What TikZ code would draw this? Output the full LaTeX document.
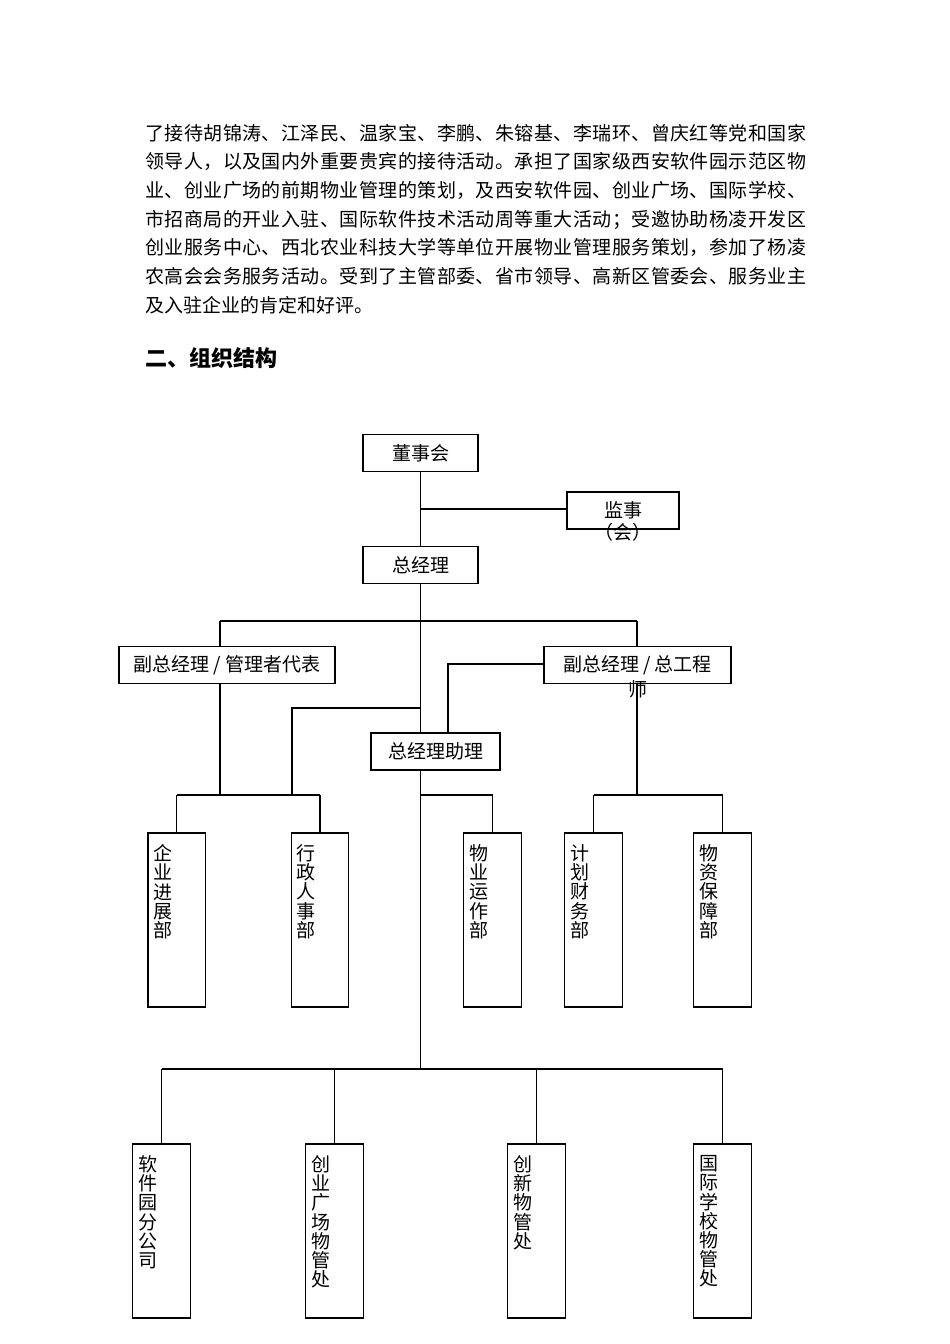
\documentclass[tikz,border=0pt]{standalone}
\usepackage{fontspec}
\newfontfamily\cjk{Noto Sans CJK SC}
\newcommand\spfirst[1]{#1\sprest}
\def\sprest#1{\ifx#1\relax\else\hfill#1\expandafter\sprest\fi}
\newcommand\jline[1]{\hbox to 661pt{\spfirst#1\relax}}
\def\stk#1{\ifx#1\relax\else\hbox{#1}\expandafter\stk\fi}
\newcommand\vtxt[1]{\vbox to 174pt{\vskip 11.5pt\hbox to 57.5pt{\hskip 5.5pt\vbox{\baselineskip=19.2pt\lineskiplimit=-1000pt\stk#1\relax}\hfil}\vfill}}
\begin{document}
\begin{tikzpicture}[x=1pt,y=-1pt,
  every node/.style={font=\cjk\fontsize{19pt}{23pt}\selectfont, inner sep=0pt},
  para/.style={anchor=base west},
  hbx/.style={draw, line width=1.3pt, minimum height=36.5pt},
  vbx/.style={draw, line width=1.3pt},
  conn/.style={line width=1.2pt}]
\useasboundingbox[fill=white] (0,0) rectangle (950,1344);

% paragraph
\node[para] (p1) at (145,140) {\jline{了接待胡锦涛、江泽民、温家宝、李鹏、朱镕基、李瑞环、曾庆红等党和国家}};
\node[para] (p2) at (145,168.7) {\jline{领导人，以及国内外重要贵宾的接待活动。承担了国家级西安软件园示范区物}};
\node[para] (p3) at (145,197.3) {\jline{业、创业广场的前期物业管理的策划，及西安软件园、创业广场、国际学校、}};
\node[para] (p4) at (145,226) {\jline{市招商局的开业入驻、国际软件技术活动周等重大活动；受邀协助杨凌开发区}};
\node[para] (p5) at (145,254.7) {\jline{创业服务中心、西北农业科技大学等单位开展物业管理服务策划，参加了杨凌}};
\node[para] (p6) at (145,283.3) {\jline{农高会会务服务活动。受到了主管部委、省市领导、高新区管委会、服务业主}};
\node[para] (p7) at (145,312) {及入驻企业的肯定和好评。};
\node[para, font=\cjk\bfseries\fontsize{22pt}{26pt}\selectfont] (h) at (145,366.5) {二、组织结构};

% boxes
\node[hbx, minimum width=115pt] (dsh) at (420.5,453) {董事会};
\node[hbx, minimum width=112pt, minimum height=37pt,
      label={[anchor=center,yshift=-3pt]south:（会）}] (js) at (623,510.5) {监事};
\node[hbx, minimum width=115pt] (zjl) at (420.5,565) {总经理};
\node[hbx, minimum width=216pt] (fz1) at (227,665) {副总经理 / 管理者代表};
\node[hbx, minimum width=187pt,
      label={[anchor=center,yshift=-5pt]south:师}] (fz2) at (637.5,665) {副总经理 / 总工程};
\node[hbx, minimum width=129pt, minimum height=37pt] (zl) at (435.5,751.5) {总经理助理};

\node[vbx] (d1) at (176.75,920) {\vtxt{企业进展部}};
\node[vbx] (d2) at (320,920) {\vtxt{行政人事部}};
\node[vbx] (d3) at (492.5,920) {\vtxt{物业运作部}};
\node[vbx] (d4) at (593.5,920) {\vtxt{计划财务部}};
\node[vbx] (d5) at (722.5,920) {\vtxt{物资保障部}};

\node[vbx] (b1) at (161.5,1231) {\vtxt{软件园分公司}};
\node[vbx] (b2) at (334.5,1231) {\vtxt{创业广场物管处}};
\node[vbx] (b3) at (536.5,1231) {\vtxt{创新物管处}};
\node[vbx] (b4) at (722.5,1231) {\vtxt{国际学校物管处}};

% junction coordinates
\coordinate (jj) at (420.5,509);
\coordinate (tl) at (220,621);
\coordinate (tr) at (637,621);
\coordinate (a1) at (420.5,708);
\coordinate (a2) at (292,708);
\coordinate (lb) at (220,795);
\coordinate (c1) at (448,664);
\coordinate (m2) at (420.5,795);
\coordinate (m3) at (420.5,1069);

% connectors
\draw[conn] (dsh.south) -- (zjl.north);
\draw[conn] (jj) -- (js.west |- jj);
\draw[conn] (zjl.south) -- (zjl.south |- zl.north);
\draw[conn] (tl) -- (tr);
\draw[conn] (tl) -- (tl |- fz1.north);
\draw[conn] (tr) -- (tr |- fz2.north);
\draw[conn] (tl |- fz1.south) -- (lb);
\draw[conn] (a1) -- (a2) -- (a2 |- lb);
\draw[conn] (d1.north |- lb) -- (d2.north |- lb);
\draw[conn] (d1.north |- lb) -- (d1.north);
\draw[conn] (d2.north |- lb) -- (d2.north);
\draw[conn] (fz2.west |- c1) -- (c1) -- (c1 |- zl.north);
\draw[conn] (m2 |- zl.south) -- (m3);
\draw[conn] (m2) -- (d3.north |- m2) -- (d3.north);
\draw[conn] (tr |- fz2.south) -- (tr |- m2);
\draw[conn] (d4.north |- m2) -- (d5.north |- m2);
\draw[conn] (d4.north |- m2) -- (d4.north);
\draw[conn] (d5.north |- m2) -- (d5.north);
\draw[conn] (b1.north |- m3) -- (b4.north |- m3);
\draw[conn] (b1.north |- m3) -- (b1.north);
\draw[conn] (b2.north |- m3) -- (b2.north);
\draw[conn] (b3.north |- m3) -- (b3.north);
\draw[conn] (b4.north |- m3) -- (b4.north);
\end{tikzpicture}
\end{document}
